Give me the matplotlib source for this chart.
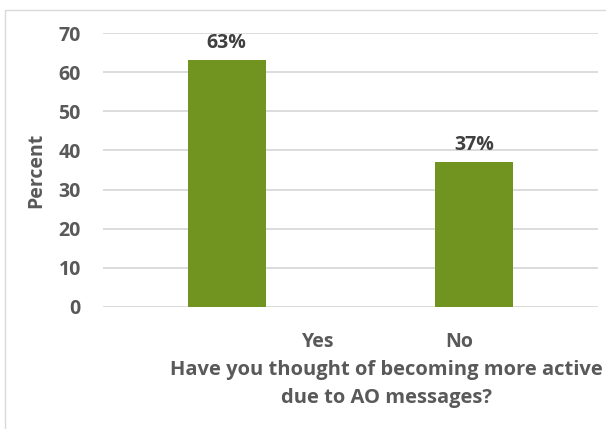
import matplotlib.pyplot as plt
from matplotlib.patches import Rectangle

# data
categories = ['Yes', 'No']
percent = [63, 37]
bar_labels = ['63%', '37%']
y_ticks = [0, 10, 20, 30, 40, 50, 60, 70]

# the category labels sit off-centre in the original chart
label_shift = [0.37, -0.06]

plt.rcParams['font.family'] = ['Open Sans', 'DejaVu Sans']
grey = '#595959'

fig = plt.figure(figsize=(6.06, 4.29), dpi=100)
ax = fig.add_axes([0.170, 0.2844, 0.817, 0.6386])

# light outer frame
fig.patches.append(Rectangle((5 / 606, -0.1), 1.2, 1.1 - 10 / 429,
                             transform=fig.transFigure, fill=False,
                             edgecolor='#d9d9d9', linewidth=1.0))

x = range(len(categories))
bars = ax.bar(x, percent, width=0.316, color='#71931F', zorder=3)

for b, lab in zip(bars, bar_labels):
    ax.annotate(lab, (b.get_x() + b.get_width() / 2, b.get_height()),
                xytext=(0, 5), textcoords='offset points',
                ha='center', va='bottom', fontsize=14,
                fontweight='bold', color='#404040')

ax.set_xlim(-0.5, 1.5)
ax.set_ylim(0, 70)
ax.set_yticks(y_ticks)
ax.set_yticklabels([str(v) for v in y_ticks], fontsize=14,
                   fontweight='bold', color=grey)
ax.set_xticks([i + s for i, s in zip(x, label_shift)])
ax.set_xticklabels(categories, fontsize=14, fontweight='bold', color=grey)
ax.tick_params(axis='x', length=0, pad=18)
ax.tick_params(axis='y', length=0, pad=16)

ax.grid(axis='y', color='#d9d9d9', linewidth=1.3, zorder=0)
for s in ax.spines.values():
    s.set_visible(False)

ax.set_ylabel('Percent', fontsize=14, fontweight='bold', color=grey,
              labelpad=8.5)
ax.set_xlabel('Have you thought of becoming more active\ndue to AO messages?',
              fontsize=14.5, fontweight='bold', color=grey,
              linespacing=1.5)
ax.xaxis.set_label_coords(0.572, -0.195, transform=ax.transAxes)
ax.xaxis.label.set_va('top')

fig.savefig('out.png', dpi=100)
